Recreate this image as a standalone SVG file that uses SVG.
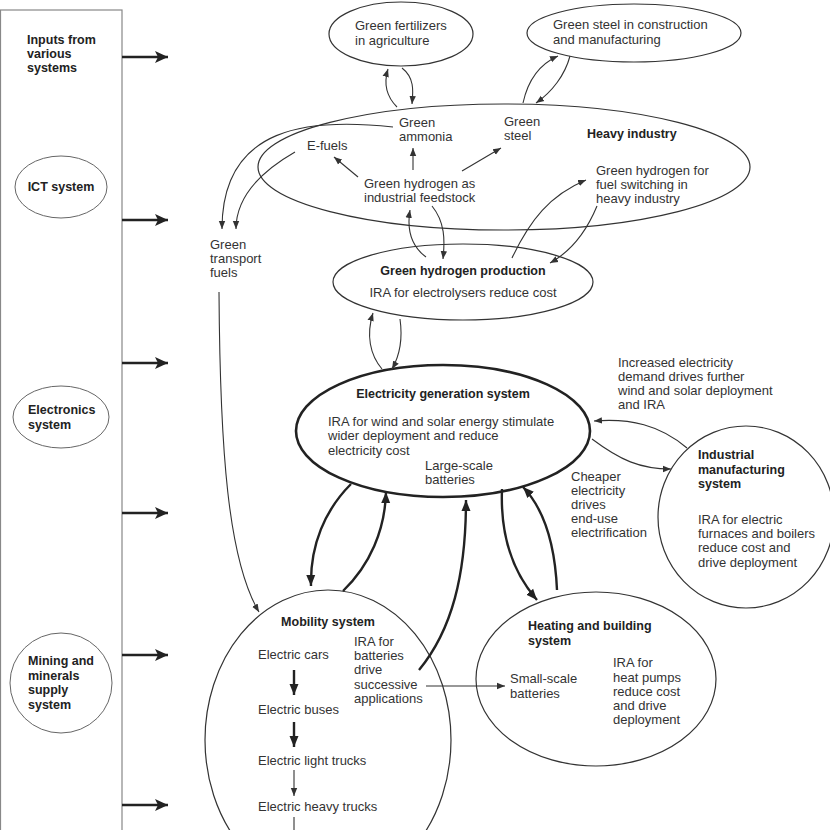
<svg xmlns="http://www.w3.org/2000/svg" width="830" height="830" viewBox="0 0 830 830">
<defs>
<style>
text{font-family:"Liberation Sans",Arial,sans-serif;font-size:13px;fill:#333}
.b{font-weight:bold;fill:#222;font-size:12.5px}
.n{fill:none;stroke:#333;stroke-width:1.2}
.thk{fill:none;stroke:#222;stroke-width:2.6}
.c{fill:none;stroke:#333;stroke-width:1.1}
.ct{fill:none;stroke:#222;stroke-width:2.4}
</style>
<marker id="a" markerUnits="userSpaceOnUse" markerWidth="9" markerHeight="8" refX="8" refY="4" orient="auto"><path d="M0,0.8 L8,4 L0,7.2 z" fill="#333"/></marker>
<marker id="A" markerUnits="userSpaceOnUse" markerWidth="12" markerHeight="10" refX="11" refY="5" orient="auto"><path d="M0,0.5 L11,5 L0,9.5 z" fill="#222"/></marker>
<marker id="L" markerUnits="userSpaceOnUse" markerWidth="14" markerHeight="12" refX="13" refY="6" orient="auto"><path d="M0,0 L13,6 L0,12 L3,6 z" fill="#222"/></marker>
</defs>

<g id="inputs">
<rect x="0.5" y="10" width="121.5" height="830" fill="none" stroke="#888" stroke-width="1.2"/>
<text class="b" x="27" y="44">Inputs from</text>
<text class="b" x="27" y="58">various</text>
<text class="b" x="27" y="72">systems</text>
</g>
<g id="ict"><ellipse cx="61" cy="187" rx="46" ry="31" fill="none" stroke="#666" stroke-width="1"/><text class="b" x="61" y="191" text-anchor="middle">ICT system</text></g>
<g id="electronics"><ellipse cx="61" cy="417" rx="48" ry="31" fill="none" stroke="#666" stroke-width="1"/><text class="b" x="28" y="414">Electronics</text><text class="b" x="28" y="429">system</text></g>
<g id="mining"><ellipse cx="61" cy="683" rx="51" ry="50" fill="none" stroke="#666" stroke-width="1"/><text class="b" x="28" y="665">Mining and</text><text class="b" x="28" y="680">minerals</text><text class="b" x="28" y="694">supply</text><text class="b" x="28" y="709">system</text></g>

<g id="fertilizers"><ellipse class="n" cx="401" cy="34" rx="72" ry="32"/><text x="355" y="30">Green fertilizers</text><text x="355" y="45">in agriculture</text></g>
<g id="steel-use"><ellipse class="n" cx="634" cy="33" rx="107" ry="29"/><text x="553" y="29">Green steel in construction</text><text x="553" y="44">and manufacturing</text></g>

<g id="heavy-industry">
<ellipse class="n" cx="504" cy="167" rx="246" ry="63"/>
<text class="b" x="587" y="138">Heavy industry</text>
<text x="399" y="127">Green</text><text x="399" y="141">ammonia</text>
<text x="504" y="126">Green</text><text x="504" y="140">steel</text>
<text x="307" y="150">E-fuels</text>
<text x="364" y="188">Green hydrogen as</text><text x="364" y="202">industrial feedstock</text>
<text x="596" y="175">Green hydrogen for</text><text x="596" y="189">fuel switching in</text><text x="596" y="203">heavy industry</text>
</g>

<g id="transport-fuels"><text x="210" y="249">Green</text><text x="210" y="263">transport</text><text x="210" y="277">fuels</text></g>

<g id="h2-production"><ellipse class="n" cx="463" cy="282" rx="130" ry="38"/><text class="b" x="463" y="275" text-anchor="middle">Green hydrogen production</text><text x="463" y="297" text-anchor="middle">IRA for electrolysers reduce cost</text></g>

<g id="electricity">
<ellipse class="thk" cx="443" cy="431" rx="147" ry="66"/>
<text class="b" x="443" y="398" text-anchor="middle">Electricity generation system</text>
<text x="328" y="426">IRA for wind and solar energy stimulate</text>
<text x="328" y="440">wider deployment and reduce</text>
<text x="328" y="455">electricity cost</text>
<text x="425" y="470">Large-scale</text><text x="425" y="484">batteries</text>
</g>

<g id="labels">
<text x="618" y="367">Increased electricity</text><text x="618" y="381">demand drives further</text><text x="618" y="395">wind and solar deployment</text><text x="618" y="409">and IRA</text>
<text x="571" y="481">Cheaper</text><text x="571" y="495">electricity</text><text x="571" y="509">drives</text><text x="571" y="523">end-use</text><text x="571" y="537">electrification</text>
</g>

<g id="industrial">
<ellipse class="n" cx="746" cy="517" rx="88" ry="91"/>
<text class="b" x="698" y="459">Industrial</text><text class="b" x="698" y="474">manufacturing</text><text class="b" x="698" y="488">system</text>
<text x="698" y="524">IRA for electric</text><text x="698" y="538">furnaces and boilers</text><text x="698" y="552">reduce cost and</text><text x="698" y="567">drive deployment</text>
</g>

<g id="mobility">
<ellipse class="n" cx="328" cy="740" rx="123" ry="150"/>
<text class="b" x="328" y="626" text-anchor="middle">Mobility system</text>
<text x="258" y="659">Electric cars</text>
<text x="258" y="714">Electric buses</text>
<text x="258" y="765">Electric light trucks</text>
<text x="258" y="811">Electric heavy trucks</text>
<text x="354" y="646">IRA for</text><text x="354" y="660">batteries</text><text x="354" y="674">drive</text><text x="354" y="689">successive</text><text x="354" y="703">applications</text>
</g>

<g id="heating">
<ellipse class="n" cx="596" cy="679" rx="120" ry="87"/>
<text class="b" x="528" y="630">Heating and building</text><text class="b" x="528" y="645">system</text>
<text x="510" y="683">Small-scale</text><text x="510" y="698">batteries</text>
<text x="613" y="667">IRA for</text><text x="613" y="682">heat pumps</text><text x="613" y="696">reduce cost</text><text x="613" y="710">and drive</text><text x="613" y="724">deployment</text>
</g>

<g id="connectors">
<line class="ct" stroke-width="3" x1="122" y1="57" x2="168" y2="57" marker-end="url(#L)"/>
<line class="ct" stroke-width="3" x1="122" y1="220" x2="168" y2="220" marker-end="url(#L)"/>
<line class="ct" stroke-width="3" x1="122" y1="363" x2="168" y2="363" marker-end="url(#L)"/>
<line class="ct" stroke-width="3" x1="122" y1="513" x2="168" y2="513" marker-end="url(#L)"/>
<line class="ct" stroke-width="3" x1="122" y1="655" x2="168" y2="655" marker-end="url(#L)"/>
<line class="ct" stroke-width="3" x1="122" y1="805" x2="168" y2="805" marker-end="url(#L)"/>

<path class="c" d="M397,107 C385,95 384,82 388,69" marker-end="url(#a)"/>
<path class="c" d="M402,68 C415,78 413,92 412,104" marker-end="url(#a)"/>
<path class="c" d="M523,103 C528,80 540,64 558,56" marker-end="url(#a)"/>
<path class="c" d="M570,56 C565,75 552,92 536,103" marker-end="url(#a)"/>

<path class="c" d="M413,170 L413,148" marker-end="url(#a)"/>
<path class="c" d="M358,177 L334,157" marker-end="url(#a)"/>
<path class="c" d="M462,171 L501,148" marker-end="url(#a)"/>

<path class="c" d="M393,127 C310,118 222,125 222,229" marker-end="url(#a)"/>
<path class="c" d="M295,152 C255,175 236,200 236,229" marker-end="url(#a)"/>

<path class="c" d="M219,292 C220,450 228,560 259,612" marker-end="url(#a)"/>

<path class="c" d="M426,257 C410,245 407,228 410,210" marker-end="url(#a)"/>
<path class="c" d="M432,206 C445,222 445,240 443,259" marker-end="url(#a)"/>
<path class="c" d="M512,258 C530,220 550,195 586,180" marker-end="url(#a)"/>
<path class="c" d="M597,206 C585,235 570,252 550,263" marker-end="url(#a)"/>

<path class="c" d="M382,369 C370,355 366,335 373,313" marker-end="url(#a)"/>
<path class="c" d="M400,319 C403,340 400,355 392,369" marker-end="url(#a)"/>

<path class="c" d="M687,448 C660,425 630,418 594,421" marker-end="url(#a)"/>
<path class="c" d="M592,439 C620,460 640,469 671,469" marker-end="url(#a)"/>

<path class="ct" d="M351,484 C325,510 310,545 311,586" marker-end="url(#A)"/>
<path class="ct" d="M343,591 C370,565 385,530 386,492" marker-end="url(#A)"/>
<path class="ct" d="M419,670 C452,630 466,575 466,500" marker-end="url(#A)"/>
<path class="ct" d="M502,489 C500,540 515,575 537,600" marker-end="url(#A)"/>
<path class="ct" d="M557,590 C555,545 545,510 523,487" marker-end="url(#A)"/>

<line class="c" x1="426" y1="686" x2="505" y2="686" marker-end="url(#a)"/>

<line class="ct" stroke-width="2" x1="294" y1="670" x2="294" y2="695" marker-end="url(#A)"/>
<line class="ct" stroke-width="2" x1="294" y1="722" x2="294" y2="747" marker-end="url(#A)"/>
<line class="c" x1="294" y1="770" x2="294" y2="796" marker-end="url(#a)"/>
<line class="c" x1="294" y1="817" x2="294" y2="830"/>
</g>
</svg>
